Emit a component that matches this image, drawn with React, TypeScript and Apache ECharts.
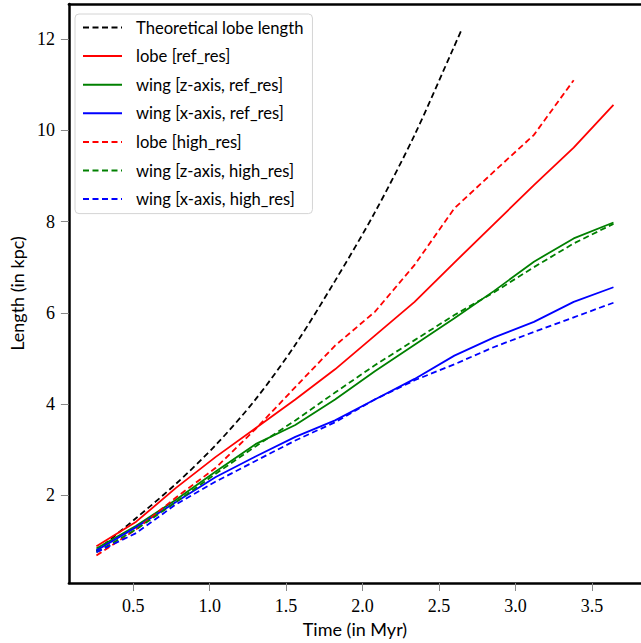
import React, { useEffect, useRef } from "react";
import * as echarts from "echarts";

const timeRef = [0.26, 0.52, 0.78, 1.04, 1.3, 1.56, 1.82, 2.08, 2.34, 2.6, 2.86, 3.12, 3.38, 3.64];
const timeTheory = [0.26, 0.52, 0.78, 1.04, 1.3, 1.56, 1.82, 2.08, 2.34, 2.6, 2.645];
const theory = [0.78, 1.5, 2.25, 3.1, 4.1, 5.3, 6.7, 8.2, 9.9, 11.85, 12.19];
const lobeRef = [0.88, 1.42, 2.16, 2.84, 3.47, 4.1, 4.76, 5.5, 6.24, 7.1, 7.95, 8.8, 9.62, 10.56];
const wingZRef = [0.83, 1.33, 1.9, 2.52, 3.12, 3.54, 4.1, 4.72, 5.3, 5.88, 6.48, 7.12, 7.63, 7.98];
const wingXRef = [0.79, 1.3, 1.85, 2.4, 2.85, 3.28, 3.64, 4.1, 4.55, 5.06, 5.46, 5.8, 6.24, 6.56];
const lobeHigh = [0.68, 1.25, 1.95, 2.6, 3.45, 4.37, 5.28, 6.02, 7.05, 8.29, 9.1, 9.9, 11.1];
const wingZHigh = [0.75, 1.25, 1.85, 2.47, 3.07, 3.64, 4.25, 4.85, 5.4, 5.95, 6.45, 7.0, 7.52, 7.95];
const wingXHigh = [0.75, 1.17, 1.8, 2.3, 2.75, 3.2, 3.6, 4.1, 4.52, 4.87, 5.25, 5.58, 5.9, 6.22];

const xTicks = [0.5, 1.0, 1.5, 2.0, 2.5, 3.0, 3.5];
const yTicks = [2, 4, 6, 8, 10, 12];

const names = [
  "Theoretical lobe length",
  "lobe [ref_res]",
  "wing [z-axis, ref_res]",
  "wing [x-axis, ref_res]",
  "lobe [high_res]",
  "wing [z-axis, high_res]",
  "wing [x-axis, high_res]",
];

const pair = (xs: number[], ys: number[]) => ys.map((y, i) => [xs[i], y]);

export default function App() {
  const ref = useRef<HTMLDivElement>(null);
  useEffect(() => {
    const chart = echarts.init(ref.current!, null, { renderer: "svg" });
    const dash = [6, 3.5];
    const mk = (name: string, data: number[][], color: string, dashed: boolean, smooth: number | boolean = false) => ({
      name,
      type: "line",
      data,
      smooth,
      symbol: "none",
      showSymbol: false,
      lineStyle: { color, width: 1.8, type: dashed ? dash : "solid" },
      itemStyle: { color },
      emphasis: { disabled: true },
    });
    const serif = "Liberation Serif";
    const sans = "Lato";
    chart.setOption({
      animation: false,
      backgroundColor: "#ffffff",
      grid: { left: 65, top: 4, right: -3, bottom: 60, containLabel: false },
      legend: {
        data: names,
        orient: "vertical",
        left: 75,
        top: 14,
        padding: [5, 9, 6, 7],
        itemWidth: 39,
        itemHeight: 14,
        itemGap: 11.6,
        selectedMode: false,
        itemStyle: { opacity: 0 },
        backgroundColor: "rgba(255,255,255,0.8)",
        borderColor: "#d4d4d4",
        borderWidth: 1,
        borderRadius: 4,
        textStyle: { fontFamily: sans, fontSize: 16.6, color: "#000", padding: [0, 0, 0, 9] },
      },
      xAxis: [
        {
          type: "value",
          min: 0.08,
          max: 3.82,
          name: "Time (in Myr)",
          nameLocation: "middle",
          nameGap: 35,
          nameTextStyle: { fontFamily: sans, fontSize: 18, color: "#000" },
          axisLine: { show: true, onZero: false, lineStyle: { color: "#000", width: 2.5 } },
          axisTick: { show: true, length: 8, customValues: xTicks, lineStyle: { color: "#888", width: 1 } },
          axisLabel: {
            customValues: xTicks,
            formatter: (v: number) => v.toFixed(1),
            fontFamily: serif,
            fontSize: 18,
            color: "#000",
            margin: 14,
          },
          splitLine: { show: false },
        },
        {
          type: "value",
          position: "top",
          min: 0.08,
          max: 3.82,
          axisLine: { show: true, onZero: false, lineStyle: { color: "#000", width: 2.5 } },
          axisTick: { show: false },
          axisLabel: { show: false },
          splitLine: { show: false },
        },
      ],
      yAxis: {
        type: "value",
        min: 0.075,
        max: 12.77,
        name: "Length (in kpc)",
        nameLocation: "middle",
        nameGap: 38,
        nameRotate: 90,
        nameTextStyle: { fontFamily: sans, fontSize: 18, color: "#000" },
        axisLine: { show: true, onZero: false, lineStyle: { color: "#000", width: 2.5 } },
        axisTick: { show: true, length: 8, customValues: yTicks, lineStyle: { color: "#888", width: 1 } },
        axisLabel: {
          customValues: yTicks,
          formatter: (v: number) => String(Math.round(v)),
          fontFamily: serif,
          fontSize: 18,
          color: "#000",
          margin: 14,
        },
        splitLine: { show: false },
      },
      series: [
        mk(names[0], pair(timeTheory, theory), "#000000", true, 0.3),
        mk(names[1], pair(timeRef, lobeRef), "#ff0000", false),
        mk(names[2], pair(timeRef, wingZRef), "#008000", false),
        mk(names[3], pair(timeRef, wingXRef), "#0000ff", false),
        mk(names[4], pair(timeRef, lobeHigh), "#ff0000", true),
        mk(names[5], pair(timeRef, wingZHigh), "#008000", true),
        mk(names[6], pair(timeRef, wingXHigh), "#0000ff", true),
      ],
    });
    return () => chart.dispose();
  }, []);
  return (
    <div
      ref={ref}
      style={{ position: "fixed", left: 0, top: 0, width: 641, height: 643, background: "#fff" }}
    />
  );
}
